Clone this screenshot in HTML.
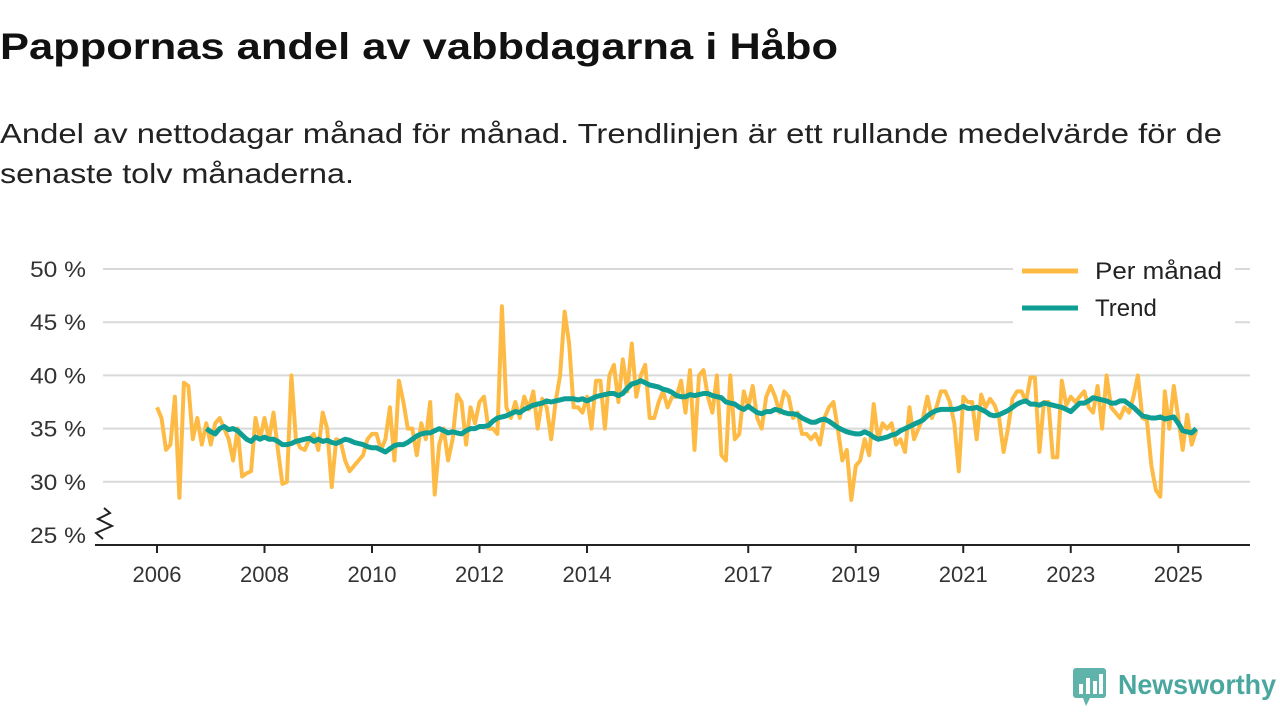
<!DOCTYPE html>
<html><head><meta charset="utf-8"><style>
body{margin:0;background:#fff;}
svg{display:block;font-family:"Liberation Sans",sans-serif;}
</style></head><body>
<svg id="chart" width="1280" height="720" viewBox="0 0 1280 720">
<text x="0" y="59" font-size="37" font-weight="bold" fill="#111" textLength="838" lengthAdjust="spacingAndGlyphs">Pappornas andel av vabbdagarna i Håbo</text>
<text x="0" y="143" font-size="28" fill="#222" textLength="1222" lengthAdjust="spacingAndGlyphs">Andel av nettodagar månad för månad. Trendlinjen är ett rullande medelvärde för de</text>
<text x="0" y="183" font-size="28" fill="#222" textLength="354" lengthAdjust="spacingAndGlyphs">senaste tolv månaderna.</text>
<g id="grid"></g>
<g id="series"></g>
<g>
<rect x="1013" y="252" width="222" height="72" fill="#fff"/>
<line x1="1022" y1="271" x2="1078" y2="271" stroke="#fdbb45" stroke-width="5"/>
<text x="1095" y="279" font-size="24" fill="#222" textLength="127" lengthAdjust="spacingAndGlyphs">Per månad</text>
<line x1="1022" y1="308" x2="1078" y2="308" stroke="#0f9e94" stroke-width="5"/>
<text x="1095" y="316" font-size="24" fill="#222">Trend</text>
</g>
<g>
<rect x="1073" y="668" width="33" height="30" rx="3" fill="#5fb3ab"/>
<polygon points="1083,698 1090,698 1086,706" fill="#5fb3ab"/>
<rect x="1079" y="684" width="4" height="10" fill="#fff"/><rect x="1086" y="678" width="4" height="16" fill="#fff"/><rect x="1093" y="681" width="4" height="13" fill="#fff"/><rect x="1099" y="674" width="4" height="20" fill="#fff"/>
<text x="1118" y="694" font-size="28" font-weight="bold" fill="#4aa79f" textLength="158" lengthAdjust="spacingAndGlyphs">Newsworthy</text>
</g>
</svg>
<script>
const monthly=[
37,36,33,33.5,38,28.5,39.3,39,34,36,33.5,35.5,
33.5,35.5,36,35,34,32,35,30.5,30.8,31,36,34,
36,34,36.5,33,29.8,30,40,34,33.2,33,34,34.5,
33,36.5,35,29.5,34,33.8,32,31,31.5,32,32.5,34,
34.5,34.5,33,34,37,32,39.5,37.5,35,35,32.5,35.5,
34,37.5,28.8,33.5,35,32,34,38.2,37.5,33.5,37,35.5,
37.5,38,35,35,34.5,46.5,37,36,37.5,36,38,36.8,
38.5,35,37.8,37,34,37.5,40,46,43,37,37,36.5,
38,35,39.5,39.5,35,40,41,37.5,41.5,38.5,43,38,
40,41,36,36,37.5,38.5,37,38,38,39.5,36.5,40.5,
33,40,40.5,38,36.5,40,32.5,32,40,34,34.5,38.5,
37,39,36,35,38,39,38,36.5,38.5,38,36,36.5,
34.5,34.5,34,34.5,33.5,36,37,37.5,35,32,33,28.3,
31.5,32,34,32.5,37.3,34,35.5,35,35.5,33.5,34,32.8,
37,34,35,36,38,36,37,38.5,38.5,37.5,35.5,31,
38,37.5,37.5,34,38.2,37,37.8,37.2,36,32.8,35,37.8,
38.5,38.5,37.5,39.8,39.8,32.8,37.5,37.5,32.3,32.3,39.5,37.2,
38,37.5,38,38.5,37,36.5,39,35,40,37,36.5,36,
37,36.5,38,40,36,35.8,31.5,29.2,28.6,38.5,35,39,
36,33,36.3,33.5,34.8];
const trendStart=11;
const trend=[35,
34.7,34.5,35,35.2,34.9,35,34.8,34.4,34,33.8,34.2,34,
34.2,34,34,33.8,33.5,33.5,33.6,33.8,33.9,34,34.1,33.8,
34,33.8,33.9,33.7,33.6,33.8,34,33.9,33.7,33.6,33.5,33.3,
33.2,33.2,33,32.8,33.1,33.4,33.5,33.5,33.7,34,34.3,34.5,
34.6,34.6,34.8,35,34.8,34.6,34.7,34.6,34.5,34.8,35,35,
35.2,35.2,35.3,35.7,36,36.1,36.2,36.4,36.6,36.5,36.8,37,
37.2,37.3,37.4,37.6,37.5,37.6,37.7,37.8,37.8,37.8,37.7,37.8,
37.6,37.8,38,38.1,38.2,38.3,38.3,38.1,38.3,38.8,39.2,39.3,
39.5,39.3,39.1,39,38.9,38.7,38.6,38.4,38.1,38,38,38.2,
38.1,38.2,38.3,38.3,38.1,38,37.9,37.5,37.4,37.3,37,36.8,
37.1,36.8,36.5,36.4,36.6,36.6,36.8,36.7,36.5,36.4,36.4,36.3,
36,35.8,35.6,35.6,35.8,35.9,35.7,35.4,35.1,34.9,34.7,34.6,
34.5,34.5,34.7,34.5,34.2,34,34.1,34.2,34.4,34.5,34.8,35,
35.2,35.4,35.6,35.8,36.2,36.5,36.7,36.8,36.8,36.8,36.8,36.9,
37.1,36.9,36.9,37,36.8,36.6,36.3,36.2,36.3,36.5,36.7,37,
37.3,37.5,37.6,37.3,37.3,37.2,37.4,37.3,37.2,37.1,37,36.8,
36.6,37,37.4,37.4,37.6,37.9,37.8,37.7,37.6,37.4,37.4,37.6,
37.6,37.3,37,36.6,36.2,36.1,36,36,36.1,35.9,36,36.1,
35.5,34.8,34.7,34.6,35];
const yTicks=[25,30,35,40,45,50];
const yTickLabels=["25 %","30 %","35 %","40 %","45 %","50 %"];
const xTickYears=[2006,2008,2010,2012,2014,2017,2019,2021,2023,2025];

const NS="http://www.w3.org/2000/svg";
function xMonth(i){return 157+i*(53.75/12);}
function xYear(y){return xMonth((y-2006)*12);}
function yVal(v){return 535-(v-25)*10.64;}
function mk(tag,attrs,parent){const e=document.createElementNS(NS,tag);for(const k in attrs)e.setAttribute(k,attrs[k]);parent.appendChild(e);return e;}
const grid=document.getElementById('grid'),series=document.getElementById('series');
yTicks.forEach((t,i)=>{
  if(i>0){const l=mk('line',{x1:103,x2:1250,y1:yVal(t),y2:yVal(t),stroke:'#d9d9d9','stroke-width':2},grid);
  
  }
  const tx=mk('text',{x:86,y:yVal(t)+8,'font-size':22,fill:'#333','text-anchor':'end',textLength:56,lengthAdjust:'spacingAndGlyphs'},grid);
  tx.textContent=yTickLabels[i];
  
  
});
const ax=mk('line',{x1:95,x2:1250,y1:545,y2:545,stroke:'#222','stroke-width':2},grid);


const zz=mk('polyline',{points:'103,539 96,533 112,526 98,519 110,513 104,508',fill:'none',stroke:'#222','stroke-width':2},grid);


xTickYears.forEach(y=>{
  const x=xYear(y);
  const tk=mk('line',{x1:x,x2:x,y1:545,y2:553,stroke:'#222','stroke-width':2},grid);
  
  
  const tx=mk('text',{x:x,y:582,'font-size':22,fill:'#333','text-anchor':'middle'},grid);
  tx.textContent=y;
  
  
});
const mp=mk('polyline',{points:monthly.map((v,i)=>xMonth(i).toFixed(1)+','+yVal(v).toFixed(1)).join(' '),fill:'none',stroke:'#fdbb45','stroke-width':4,'stroke-linejoin':'round'},series);


const tp=mk('polyline',{points:trend.map((v,i)=>xMonth(i+trendStart).toFixed(1)+','+yVal(v).toFixed(1)).join(' '),fill:'none',stroke:'#0f9e94','stroke-width':5,'stroke-linejoin':'round'},series);


</script>
</body></html>
